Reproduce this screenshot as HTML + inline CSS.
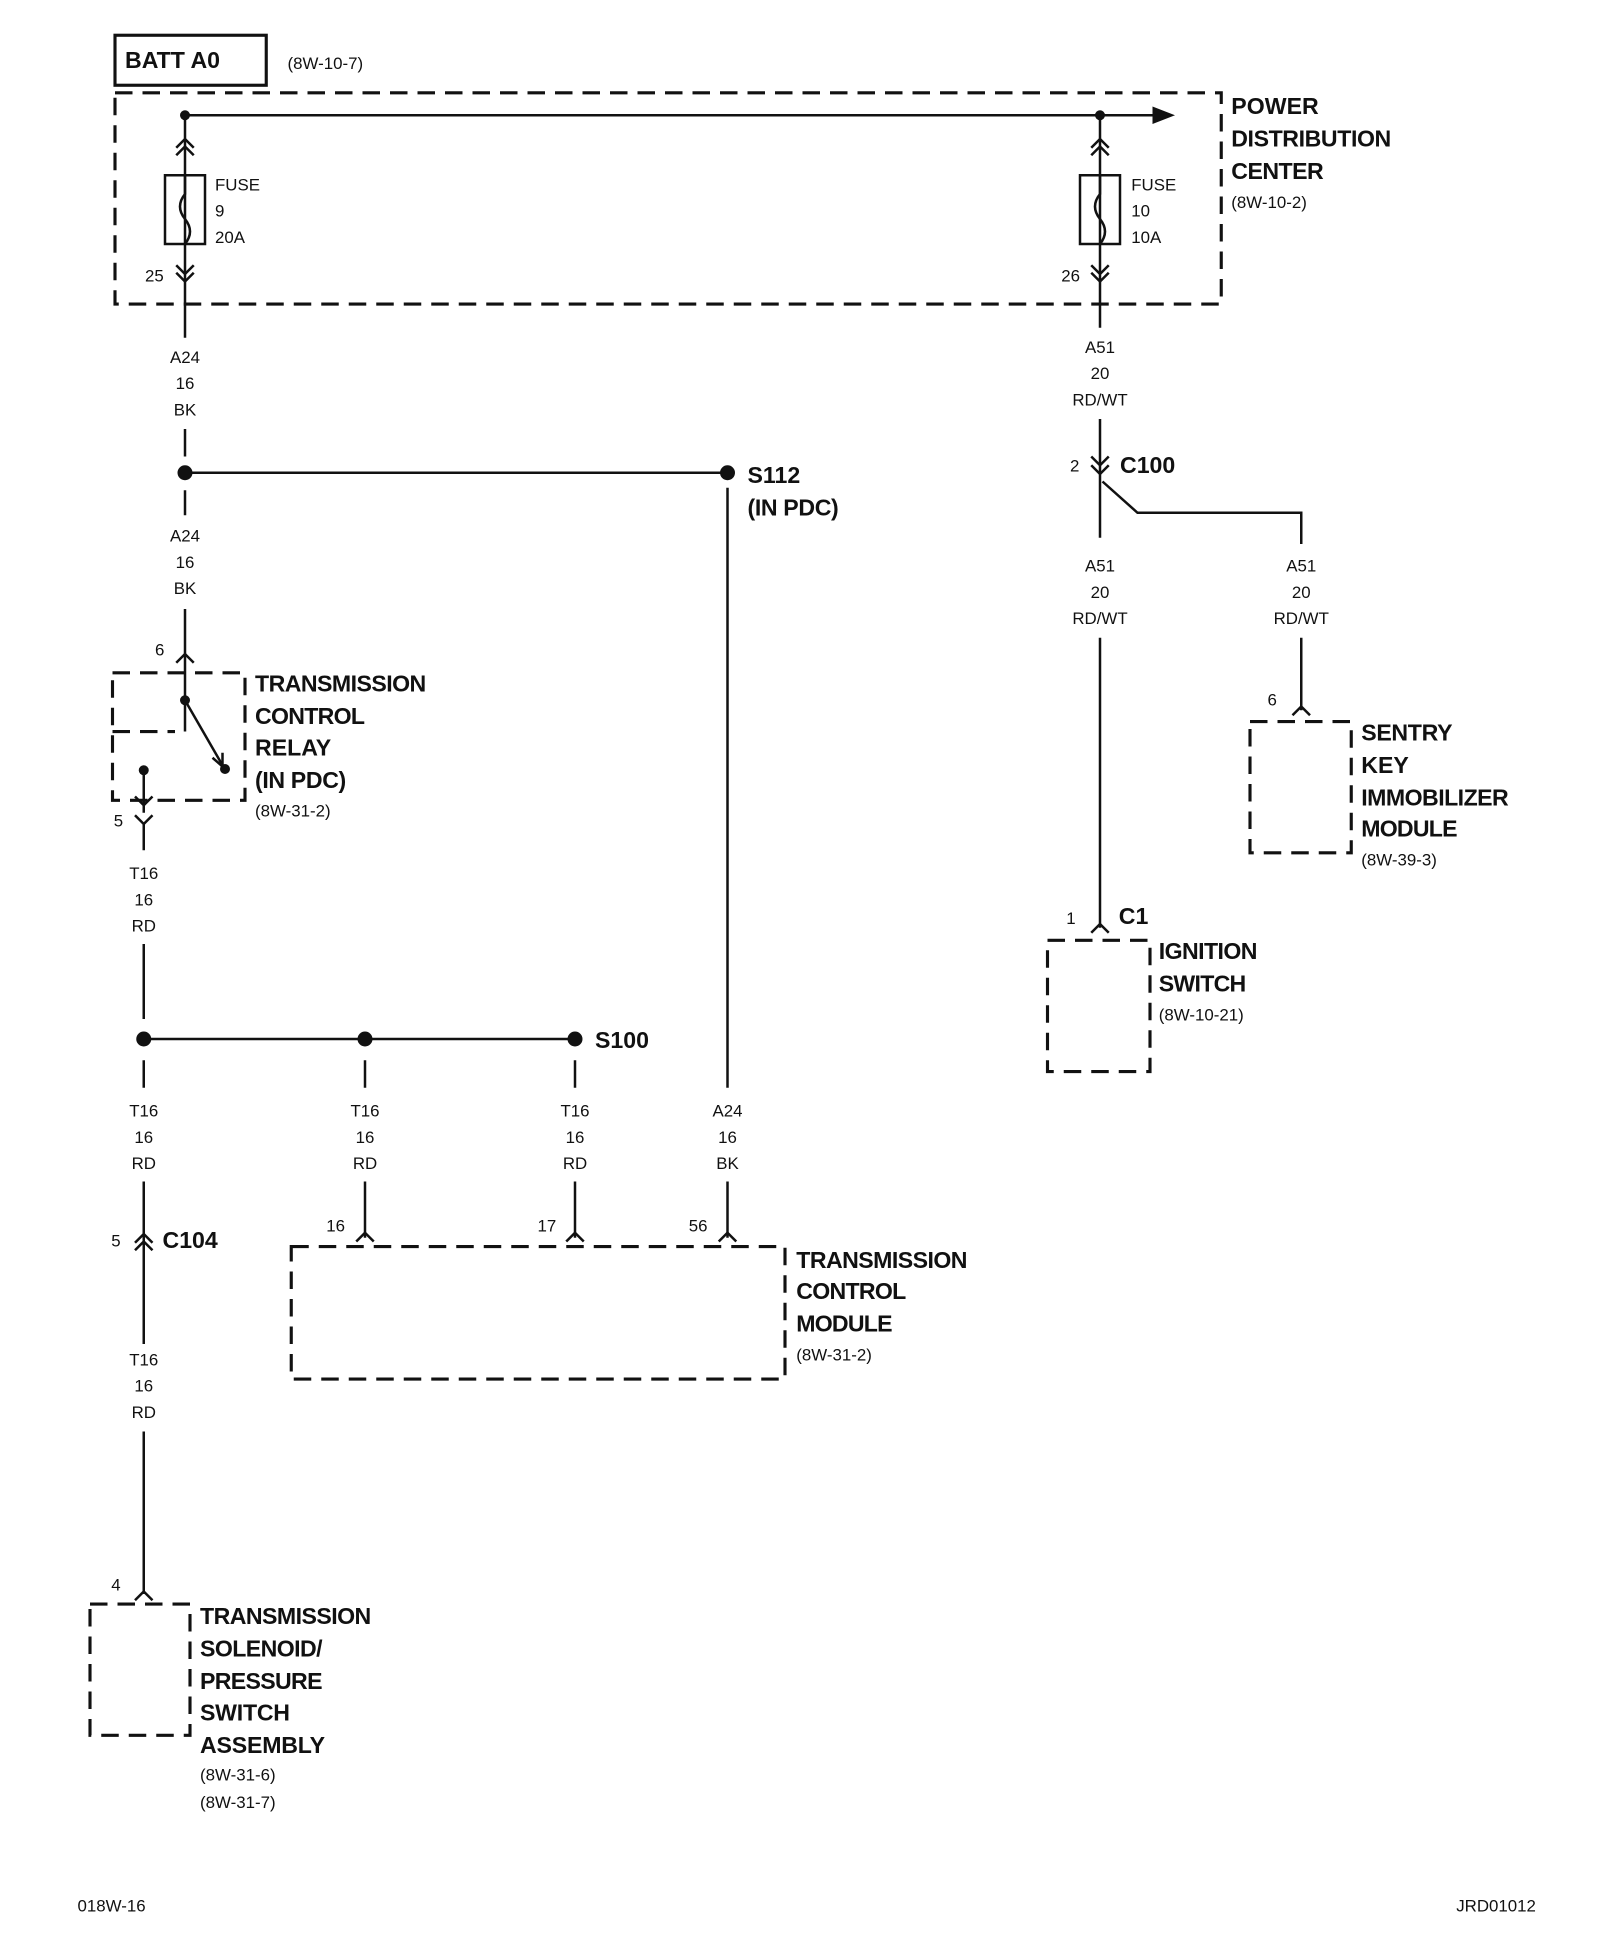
<!DOCTYPE html>
<html><head><meta charset="utf-8"><style>
html,body{margin:0;padding:0;background:#fff}
svg{display:block}
text{font-family:"Liberation Sans Narrow","Liberation Sans",sans-serif;fill:#111}
.s{font-size:13.5px}
.b{font-size:18.5px;font-weight:bold}
.m{text-anchor:middle}
</style></head><body>
<svg width="1600" height="1948" viewBox="0 0 1280 1558" xmlns="http://www.w3.org/2000/svg">
<g stroke="#111" fill="none" stroke-width="2">
<rect x="92" y="28" width="121" height="40" stroke-width="2.5"/>
<g stroke-dasharray="14,8" stroke-width="2.5">
<rect x="92" y="74" width="885" height="169"/>
<rect x="90" y="538" width="106" height="102"/>
<line x1="90" y1="585" x2="140" y2="585"/>
<rect x="233" y="997" width="395" height="106"/>
<rect x="72" y="1283" width="80" height="105"/>
<rect x="1000" y="577" width="81" height="105"/>
<rect x="838" y="752" width="82" height="105"/>
</g>
<line x1="148" y1="92" x2="925" y2="92"/>
<line x1="148" y1="92" x2="148" y2="270"/>
<line x1="880" y1="92" x2="880" y2="262"/>
<rect x="132" y="140" width="32" height="55"/>
<path d="M148 140 v15 q-8 10 0 20 q8 10 0 20"/>
<rect x="864" y="140" width="32" height="55"/>
<path d="M880 140 v15 q-8 10 0 20 q8 10 0 20"/>
<path d="M141 118 l7-7 7 7 M141 124 l7-7 7 7 M873 118 l7-7 7 7 M873 124 l7-7 7 7"/>
<path d="M141 212 l7 7 7-7 M141 218 l7 7 7-7 M873 212 l7 7 7-7 M873 218 l7 7 7-7"/>
<line x1="148" y1="343" x2="148" y2="365"/>
<line x1="148" y1="378" x2="582" y2="378"/>
<line x1="148" y1="392" x2="148" y2="412"/>
<line x1="148" y1="487" x2="148" y2="585"/>
<path d="M141 530 l7-7 7 7"/>
<line x1="148" y1="560" x2="178" y2="612"/>
<path d="M170 606 l8 7 0-11"/>
<line x1="115" y1="616" x2="115" y2="650"/>
<path d="M108 637 l7 7 7-7 M108 652 l7 7 7-7"/>
<line x1="115" y1="658" x2="115" y2="680"/>
<line x1="115" y1="755" x2="115" y2="815"/>
<line x1="115" y1="831" x2="460" y2="831"/>
<line x1="115" y1="848" x2="115" y2="870"/>
<line x1="292" y1="848" x2="292" y2="870"/>
<line x1="460" y1="848" x2="460" y2="870"/>
<line x1="582" y1="390" x2="582" y2="870"/>
<line x1="292" y1="945" x2="292" y2="990"/>
<line x1="460" y1="945" x2="460" y2="990"/>
<line x1="582" y1="945" x2="582" y2="990"/>
<path d="M285 993 l7-7 7 7 M453 993 l7-7 7 7 M575 993 l7-7 7 7"/>
<line x1="115" y1="945" x2="115" y2="1075"/>
<path d="M108 994 l7-7 7 7 M108 1000 l7-7 7 7"/>
<line x1="115" y1="1145" x2="115" y2="1275"/>
<path d="M108 1280 l7-7 7 7"/>
<line x1="880" y1="335" x2="880" y2="430"/>
<path d="M873 365 l7 7 7-7 M873 372 l7 7 7-7"/>
<path d="M882 385 l28 25 h131 v25"/>
<line x1="1041" y1="510" x2="1041" y2="568"/>
<path d="M1034 572 l7-7 7 7"/>
<line x1="880" y1="510" x2="880" y2="742"/>
<path d="M873 746 l7-7 7 7"/>
</g>
<path d="M940 92 l-18-7 v14 z" fill="#111"/>
<g fill="#111">
<circle cx="148" cy="92" r="4"/><circle cx="880" cy="92" r="4"/>
<circle cx="148" cy="378" r="6"/><circle cx="582" cy="378" r="6"/>
<circle cx="148" cy="560" r="4"/><circle cx="180" cy="615" r="4"/><circle cx="115" cy="616" r="4"/>
<circle cx="115" cy="831" r="6"/><circle cx="292" cy="831" r="6"/><circle cx="460" cy="831" r="6"/>
</g>
<text class="b" x="100" y="54">BATT A0</text>
<text class="s" x="230" y="55">(8W-10-7)</text>
<text class="b" x="985" y="91" textLength="70">POWER</text><text class="b" x="985" y="117" textLength="128">DISTRIBUTION</text><text class="b" x="985" y="143" textLength="74">CENTER</text>
<text class="s" x="985" y="166">(8W-10-2)</text>
<text class="s" x="172" y="152">FUSE</text><text class="s" x="172" y="173">9</text><text class="s" x="172" y="194">20A</text>
<text class="s" x="905" y="152">FUSE</text><text class="s" x="905" y="173">10</text><text class="s" x="905" y="194">10A</text>
<text class="s" x="116" y="225">25</text><text class="s" x="849" y="225">26</text>
<text class="s m" x="148" y="290">A24</text><text class="s m" x="148" y="311">16</text><text class="s m" x="148" y="332">BK</text>
<text class="s m" x="148" y="433">A24</text><text class="s m" x="148" y="454">16</text><text class="s m" x="148" y="475">BK</text>
<text class="s m" x="115" y="703">T16</text><text class="s m" x="115" y="724">16</text><text class="s m" x="115" y="745">RD</text>
<text class="s m" x="115" y="893">T16</text><text class="s m" x="115" y="914">16</text><text class="s m" x="115" y="935">RD</text>
<text class="s m" x="292" y="893">T16</text><text class="s m" x="292" y="914">16</text><text class="s m" x="292" y="935">RD</text>
<text class="s m" x="460" y="893">T16</text><text class="s m" x="460" y="914">16</text><text class="s m" x="460" y="935">RD</text>
<text class="s m" x="582" y="893">A24</text><text class="s m" x="582" y="914">16</text><text class="s m" x="582" y="935">BK</text>
<text class="s m" x="115" y="1092">T16</text><text class="s m" x="115" y="1113">16</text><text class="s m" x="115" y="1134">RD</text>
<text class="s m" x="880" y="282">A51</text><text class="s m" x="880" y="303">20</text><text class="s m" x="880" y="324">RD/WT</text>
<text class="s m" x="880" y="457">A51</text><text class="s m" x="880" y="478">20</text><text class="s m" x="880" y="499">RD/WT</text>
<text class="s m" x="1041" y="457">A51</text><text class="s m" x="1041" y="478">20</text><text class="s m" x="1041" y="499">RD/WT</text>
<text class="b" x="598" y="386">S112</text><text class="b" x="598" y="412" textLength="73">(IN PDC)</text>
<text class="s" x="124" y="524">6</text>
<text class="b" x="204" y="553" textLength="137">TRANSMISSION</text><text class="b" x="204" y="579" textLength="88">CONTROL</text><text class="b" x="204" y="604">RELAY</text><text class="b" x="204" y="630" textLength="73">(IN PDC)</text>
<text class="s" x="204" y="653">(8W-31-2)</text>
<text class="s" x="91" y="661">5</text>
<text class="b" x="476" y="838">S100</text>
<text class="s" x="261" y="985">16</text><text class="s" x="430" y="985">17</text><text class="s" x="551" y="985">56</text>
<text class="b" x="637" y="1014" textLength="137">TRANSMISSION</text><text class="b" x="637" y="1039" textLength="88">CONTROL</text><text class="b" x="637" y="1065" textLength="77">MODULE</text>
<text class="s" x="637" y="1088">(8W-31-2)</text>
<text class="s" x="89" y="997">5</text><text class="b" x="130" y="998">C104</text>
<text class="s" x="89" y="1272">4</text>
<text class="b" x="160" y="1299" textLength="137">TRANSMISSION</text><text class="b" x="160" y="1325" textLength="98">SOLENOID/</text><text class="b" x="160" y="1351" textLength="98">PRESSURE</text><text class="b" x="160" y="1376" textLength="72">SWITCH</text><text class="b" x="160" y="1402" textLength="100">ASSEMBLY</text>
<text class="s" x="160" y="1424">(8W-31-6)</text><text class="s" x="160" y="1446">(8W-31-7)</text>
<text class="s" x="856" y="377">2</text><text class="b" x="896" y="378">C100</text>
<text class="s" x="1014" y="564">6</text>
<text class="b" x="1089" y="592" textLength="73">SENTRY</text><text class="b" x="1089" y="618">KEY</text><text class="b" x="1089" y="644" textLength="118">IMMOBILIZER</text><text class="b" x="1089" y="669" textLength="77">MODULE</text>
<text class="s" x="1089" y="692">(8W-39-3)</text>
<text class="s" x="853" y="739">1</text><text class="b" x="895" y="739">C1</text>
<text class="b" x="927" y="767" textLength="79">IGNITION</text><text class="b" x="927" y="793" textLength="70">SWITCH</text>
<text class="s" x="927" y="816">(8W-10-21)</text>
<text class="s" x="62" y="1529">018W-16</text>
<text class="s" x="1165" y="1529">JRD01012</text>
</svg>
</body></html>
